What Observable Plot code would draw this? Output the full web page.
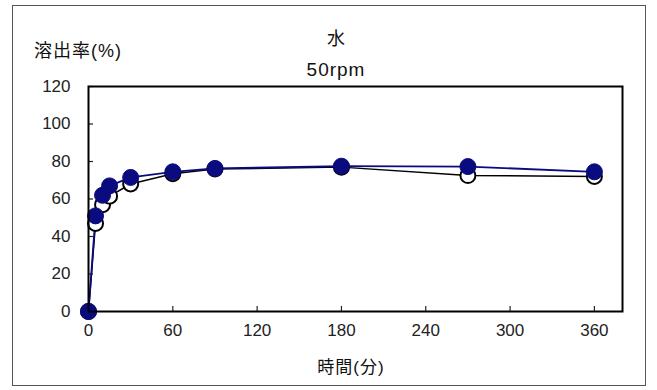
<!DOCTYPE html>
<html><head><meta charset="utf-8">
<script src="https://cdn.jsdelivr.net/npm/d3@7"></script>
<script src="https://cdn.jsdelivr.net/npm/@observablehq/plot@0.6"></script>
<style>
html,body{margin:0;padding:0;background:#fff;}
#wrap{position:relative;width:657px;height:390px;font-family:"Liberation Sans","Noto Sans CJK JP",sans-serif;}
#border{position:absolute;left:12px;top:5px;width:634px;height:381px;border:1px solid #555;box-sizing:border-box;}
.t{position:absolute;color:#111;white-space:nowrap;line-height:1;}
</style></head>
<body><div id="wrap"><div id="border"></div></div>
<script>
const times = [0, 5, 10, 15, 30, 60, 90, 180, 270, 360];
const filledValues = [0, 51, 62, 67, 71.5, 74.5, 76.3, 77.5, 77.3, 74.5];
const openValues = [0, 47, 57, 61.5, 68, 73.5, 76, 77, 72.5, 72];
const xTicks = [0, 60, 120, 180, 240, 300, 360];
const yTicks = [0, 20, 40, 60, 80, 100, 120];
const titleText = "水";
const subtitleText = "50rpm";
const yLabelText = "溶出率(%)";
const xLabelText = "時間(分)";

const openData = times.map((t, i) => ({t, v: openValues[i]}));
const filledData = times.map((t, i) => ({t, v: filledValues[i]}));
const navy = "#0b0b80";

const chart = Plot.plot({
  width: 657, height: 390,
  marginLeft: 88, marginRight: 35, marginTop: 86, marginBottom: 79,
  style: {fontFamily: "Liberation Sans, Noto Sans CJK JP, sans-serif", fontSize: "17px", color: "#222", background: "transparent"},
  x: {domain: [0, 380]},
  y: {domain: [0, 120]},
  marks: [
    Plot.axisX({ticks: xTicks, tickSize: 0, tickPadding: 12, label: null}),
    Plot.axisX({ticks: xTicks, tickSize: -5, text: null, label: null, strokeWidth: 1.2}),
    Plot.axisY({ticks: yTicks, tickSize: 0, tickPadding: 18, label: null}),
    Plot.axisY({ticks: yTicks, tickSize: -5, text: null, label: null, strokeWidth: 1.2}),
    Plot.line(openData, {x: "t", y: "v", stroke: "#000", strokeWidth: 1.5}),
    Plot.line(filledData, {x: "t", y: "v", stroke: navy, strokeWidth: 1.8}),
    Plot.dot(openData, {x: "t", y: "v", r: 7.5, fill: "#fff", stroke: "#000", strokeWidth: 2}),
    Plot.dot(filledData, {x: "t", y: "v", r: 8, fill: navy, stroke: navy, strokeWidth: 1}),
    Plot.frame({stroke: "#000", strokeWidth: 2})
  ]
});
chart.style.position = "absolute";
chart.style.left = "0px";
chart.style.top = "0px";
const wrap = document.getElementById("wrap");
wrap.appendChild(chart);

function addText(txt, cx, cy, size, center, ls) {
  const d = document.createElement("div");
  d.className = "t";
  d.textContent = txt;
  d.style.fontSize = size + "px";
  d.style.letterSpacing = (ls || 0) + "px";
  d.style.left = cx + "px";
  d.style.top = cy + "px";
  d.style.transform = center ? "translate(-50%,-50%)" : "translate(0,-50%)";
  wrap.appendChild(d);
}
addText(titleText, 336, 39, 18, true);
addText(subtitleText, 336, 69, 19, true, 1);
addText(yLabelText, 34, 51, 18, false, 1);
addText(xLabelText, 351, 367, 17, true, 1);
</script></body></html>
